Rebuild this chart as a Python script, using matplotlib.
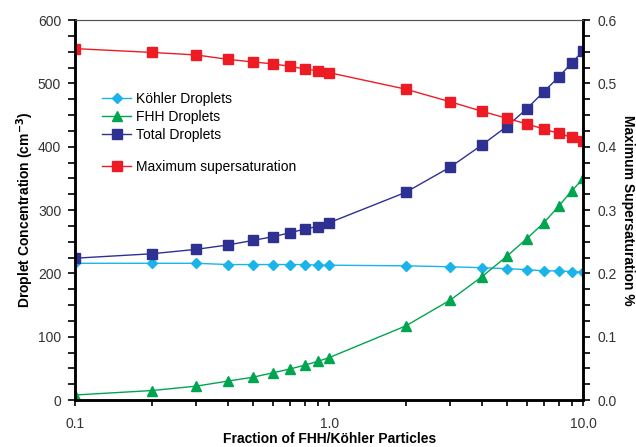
import matplotlib
matplotlib.use("Agg")
import matplotlib.pyplot as plt
from matplotlib.ticker import MultipleLocator, FixedLocator, FixedFormatter, NullFormatter

plt.rcParams['font.family'] = ['Liberation Sans', 'DejaVu Sans']

# Fracción FHH/Köhler
fraccion = [0.1, 0.2, 0.3, 0.4, 0.5, 0.6, 0.7, 0.8, 0.9, 1.0,
            2, 3, 4, 5, 6, 7, 8, 9, 10]

kohler = [216, 216, 216, 214, 214, 214, 214, 214, 213, 213,
          212, 210.5, 209, 207.5, 206, 204, 204, 203, 202]
fhh = [8, 15, 22, 30, 36, 43, 49, 55, 61, 67,
       117, 158, 195, 227, 255, 280, 306, 330, 350]
total = [224, 231, 238, 245, 252, 258, 264, 270, 274, 280,
         328, 368, 403, 432, 460, 487, 510, 532, 552]
max_ss = [0.555, 0.549, 0.545, 0.538, 0.534, 0.531, 0.527, 0.523, 0.520, 0.517,
          0.491, 0.471, 0.456, 0.445, 0.436, 0.428, 0.421, 0.415, 0.409]

c_kohler = "#1ab4ea"
c_fhh = "#00a550"
c_total = "#2e3192"
c_red = "#ed1c24"
gris = "#333333"

fig = plt.figure(figsize=(6.36, 4.47), dpi=100)
ax = fig.add_axes([0.118, 0.105, 0.799, 0.850])
ax2 = ax.twinx()

l1, = ax.plot(fraccion, kohler, color=c_kohler, marker="D", markersize=5.5, lw=1, label="Köhler Droplets")
l2, = ax.plot(fraccion, fhh, color=c_fhh, marker="^", markersize=7, lw=1, label="FHH Droplets")
l3, = ax.plot(fraccion, total, color=c_total, marker="s", markersize=6.5, lw=1, label="Total Droplets")
l4, = ax2.plot(fraccion, max_ss, color=c_red, marker="s", markersize=6.5, lw=1, label="Maximum supersaturation")

ax.set_xscale("log")
ax.set_xlim(0.1, 10)
ax.set_ylim(0, 600)
ax2.set_ylim(0, 0.6)

ax.xaxis.set_major_locator(FixedLocator([0.1, 1, 10]))
ax.xaxis.set_major_formatter(FixedFormatter(["0.1", "1.0", "10.0"]))
ax.xaxis.set_minor_formatter(NullFormatter())
ax.yaxis.set_major_locator(MultipleLocator(100))
ax.yaxis.set_minor_locator(MultipleLocator(25))
ax2.yaxis.set_major_locator(MultipleLocator(0.1))
ax2.yaxis.set_minor_locator(MultipleLocator(0.025))
ax2.yaxis.set_major_formatter(matplotlib.ticker.FormatStrFormatter("%.1f"))

ax.tick_params(axis="x", which="both", direction="out", length=4, width=1.2, pad=8,
               labelsize=10, labelcolor=gris)
ax.tick_params(axis="y", which="both", direction="out", length=5, width=1.2, pad=5,
               labelsize=10, labelcolor=gris)
ax2.tick_params(axis="y", which="both", direction="out", length=5, width=1.2, pad=5,
                labelsize=10, labelcolor=gris)

for a in (ax, ax2):
    for s in ("left", "right", "bottom"):
        a.spines[s].set_linewidth(1.8)
    a.spines["top"].set_linewidth(0.8)
    a.spines["top"].set_color("#555555")

ax.set_xlabel("Fraction of FHH/Köhler Particles", fontsize=10, fontweight="bold", labelpad=1)
ax.set_ylabel("Droplet Concentration (cm$^{\\mathbf{-3}}$)", fontsize=10, fontweight="bold", labelpad=1)
ax2.set_ylabel("Maximum Supersaturation %", fontsize=10, fontweight="bold", rotation=270, labelpad=13)

leg1 = ax.legend(handles=[l1, l2, l3], loc="upper left", bbox_to_anchor=(0.04, 0.83),
                 frameon=False, fontsize=10, handlelength=2.1, handletextpad=0.3,
                 labelspacing=0.3, borderpad=0)
ax2.legend(handles=[l4], loc="upper left", bbox_to_anchor=(0.04, 0.65),
           frameon=False, fontsize=10, handlelength=2.1, handletextpad=0.3, borderpad=0)

fig.savefig("out.png", dpi=100)
